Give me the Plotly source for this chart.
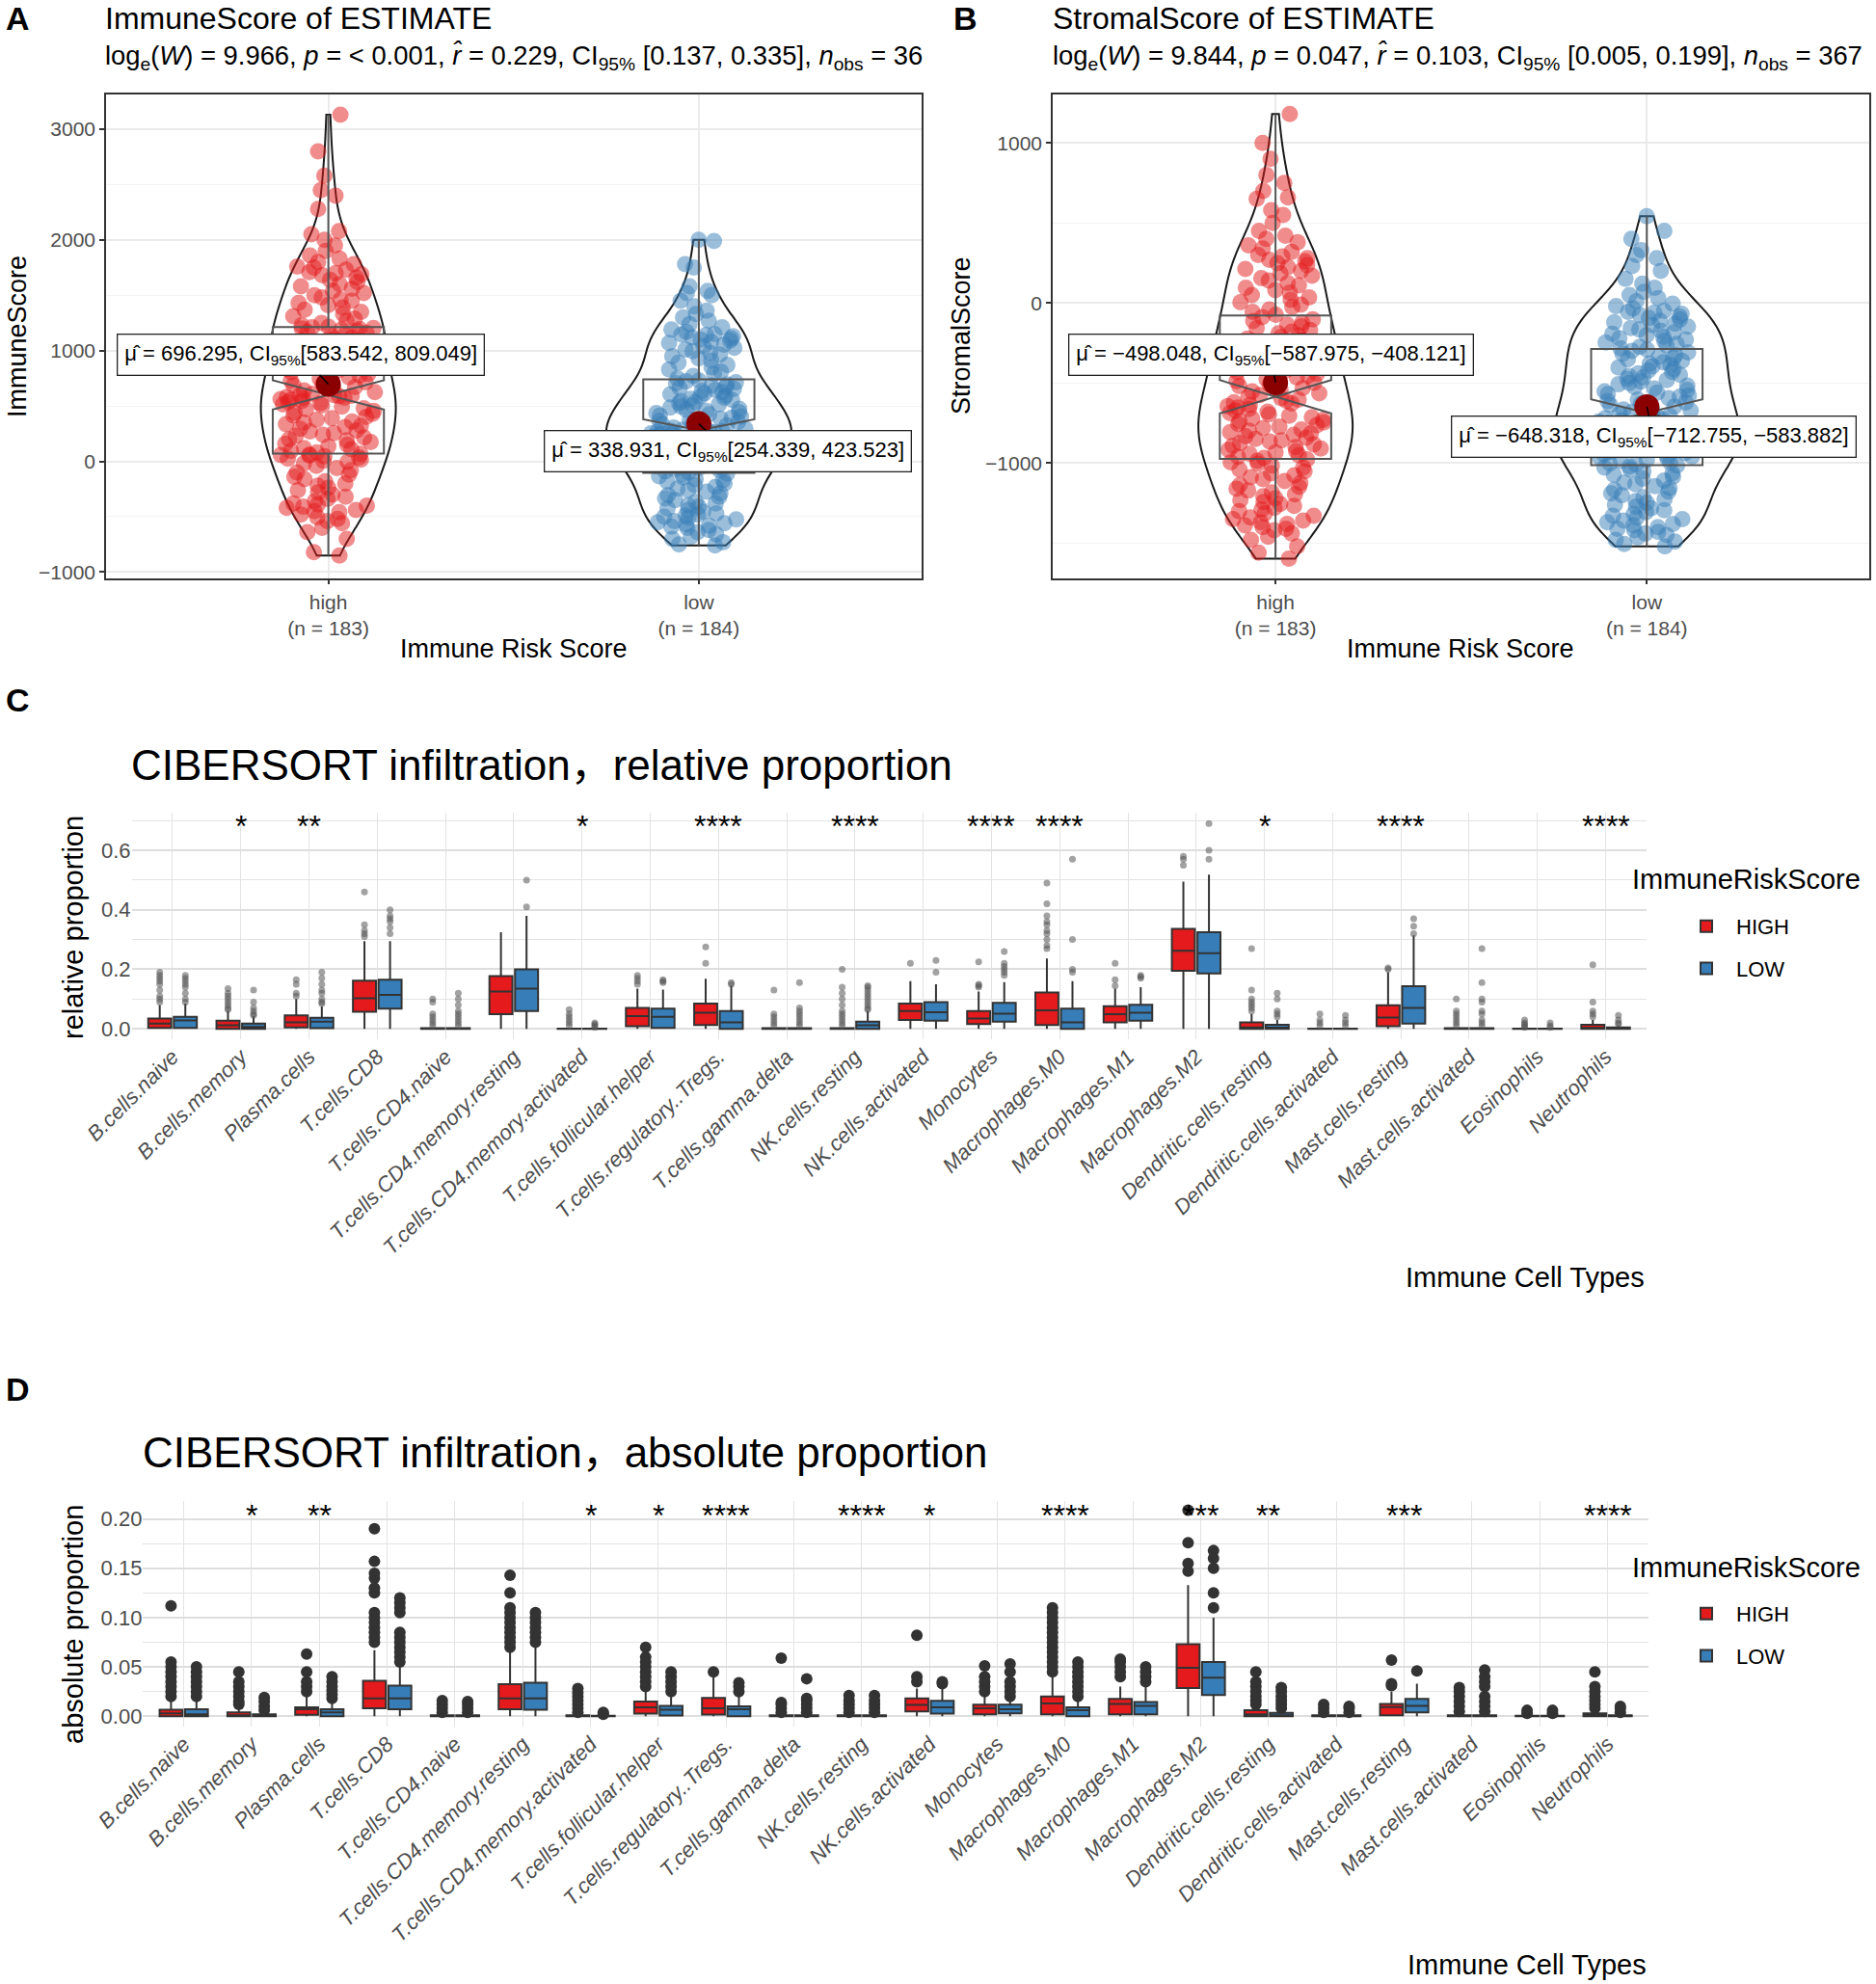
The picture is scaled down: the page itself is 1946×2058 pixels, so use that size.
import numpy as np
import plotly.graph_objects as go

W, H = 1946, 2058
FONT = "Liberation Sans, Arial, Helvetica, sans-serif"
FONT_CJK = "Liberation Sans, Arial, Noto Sans CJK SC, sans-serif"

# ---------------- Panels A / B : ESTIMATE scores ----------------
groups = ["high", "low"]
group_ticktext = ["high<br>(n = 183)", "low<br>(n = 184)"]

immune_high = [-850, -820, -700, -640, -600, -560, -540, -520, -505,
               -480, -460, -450, -440, -420, -410, -400, -390, -380,
               -360, -340, -320, -300, -280, -260, -240, -220, -200, -180, -160, -140, -120, -100, -80, -60, -40, -20,
               -5, 5, 15, 25, 35, 45, 52, 58, 62, 67,
               80, 95, 110, 120, 135, 150, 160, 175, 190, 200, 215, 230, 240, 255, 270, 280, 295, 310, 320, 335,
               350, 360, 375, 390, 400, 415, 430, 440, 455, 470, 480, 495, 505, 515, 525, 535, 545, 555, 562, 570,
               576, 582, 588, 592, 596, 600,
               610, 625, 640, 655, 670, 685, 700, 715, 730, 745, 760, 775, 790, 805, 820, 835, 850, 865, 880, 895,
               910, 925, 940, 955, 970, 985, 1000, 1015, 1030, 1045, 1060, 1075, 1090, 1105, 1120, 1135, 1150, 1160,
               1170, 1180, 1190, 1195, 1200, 1205, 1210, 1215,
               1230, 1250, 1270, 1290, 1310, 1330, 1350, 1370, 1390, 1410, 1430, 1450, 1460, 1480, 1500, 1520, 1540,
               1560, 1580, 1600, 1620, 1640, 1660, 1680, 1690, 1700, 1710,
               1730, 1750, 1760, 1780, 1800, 1830, 1860, 1900, 1950, 2000, 2050, 2080, 2280, 2400, 2450, 2580, 2800, 3130]

immune_low = [-760, -750, -730, -700, -680, -660, -640, -620, -600,
              -590, -580, -570, -560, -550, -540, -525, -510, -500,
              -490, -480, -470, -455, -440, -425, -410, -395, -380, -365, -350, -335, -320, -305, -290, -275, -260,
              -245, -230, -215, -200, -185, -170, -160, -145, -135, -120, -110,
              -100, -90, -80, -70, -60, -50, -40, -30, -20, -10, 0, 10, 20, 30, 40, 50, 60, 70, 80, 90, 100, 110, 120,
              130, 140, 150, 160, 170, 180, 190, 200, 208, 215, 222, 229, 236, 243, 248, 253, 258, 262, 266, 270,
              273, 275, 277,
              285, 295, 305, 315, 325, 335, 345, 355, 365, 375, 385, 395, 405, 415, 425, 435, 445, 455, 465, 475,
              485, 495, 505, 515, 525, 535, 545, 555, 565, 575, 585, 595, 605, 615, 625, 635, 645, 655, 665, 675,
              685, 695, 705, 715, 722, 729,
              750, 770, 790, 810, 830, 850, 870, 890, 910, 930, 950, 965, 980, 995, 1010, 1025, 1040, 1055, 1070,
              1080, 1090, 1100, 1110, 1120, 1130, 1140, 1145, 1150,
              1170, 1190, 1210, 1240, 1270, 1300, 1330, 1360, 1400,
              1450, 1500, 1520, 1540, 1580, 1750, 1780, 1990, 2000]

stromal_high = [-1598, -1560, -1520, -1480, -1460, -1440, -1420, -1410, -1400,
                -1390, -1380, -1370, -1360, -1350, -1340, -1330, -1315, -1300,
                -1290, -1280, -1268, -1256, -1244, -1232, -1220, -1208, -1196, -1184, -1172, -1160, -1148, -1136,
                -1124, -1112, -1100, -1088, -1076, -1064, -1052, -1040, -1028, -1016, -1004, -995, -986, -977,
                -968, -960, -951, -943, -934, -926, -917, -909, -900, -892, -883, -875, -866, -858, -849, -841, -832,
                -824, -815, -807, -798, -790, -781, -773, -764, -756, -747, -739, -730, -722, -713, -705, -696, -688,
                -679, -671, -662, -654, -645, -637, -628, -620, -611, -603, -594, -586,
                -575, -564, -553, -542, -531, -520, -509, -498, -487, -476, -465, -454, -443, -432, -421, -410, -399,
                -388, -377, -366, -355, -344, -333, -322, -311, -300, -289, -278, -267, -256, -245, -234, -223, -212,
                -201, -190, -179, -168, -157, -146, -135, -124, -113, -102, -88, -74,
                -55, -40, -25, -10, 5, 20, 35, 50, 65, 80, 95, 110, 125, 140, 155, 170, 185, 200, 212, 224, 236, 248,
                260, 270, 280, 290, 300,
                320, 340, 360, 380, 400, 420, 450, 500, 550,
                580, 650, 660, 700, 750, 800, 900, 1000, 1180]

stromal_low = [-1520, -1505, -1490, -1480, -1465, -1450, -1440, -1430, -1420,
               -1410, -1400, -1390, -1380, -1370, -1360, -1350, -1340, -1330,
               -1318, -1306, -1295, -1283, -1272, -1260, -1248, -1237, -1225, -1214, -1202, -1190, -1179, -1167,
               -1156, -1144, -1132, -1121, -1109, -1098, -1086, -1074, -1063, -1051, -1040, -1028, -1022, -1016,
               -1009, -1002, -995, -988, -980, -973, -966, -959, -952, -945, -938, -931, -923, -916, -909, -902, -895,
               -888, -881, -874, -867, -860, -852, -845, -838, -831, -824, -817, -810, -803, -796, -789, -782, -775,
               -768, -761, -754, -747, -740, -733, -726, -719, -712, -705, -698, -691,
               -682, -673, -665, -656, -647, -638, -630, -621, -612, -604, -595, -586, -578, -569, -560, -552, -543,
               -534, -526, -517, -508, -500, -491, -482, -474, -465, -456, -448, -439, -430, -422, -413, -404, -396,
               -387, -378, -370, -361, -352, -344, -335, -326, -318, -309, -300, -292,
               -283, -274, -265, -256, -247, -238, -229, -220, -211, -202, -193, -184, -175, -166, -157, -148, -139,
               -130, -121, -112, -103, -94, -85, -76, -67, -60, -55, -50,
               -35, -20, -5, 10, 30, 50, 70, 95, 120,
               150, 200, 230, 280, 300, 330, 400, 450, 542]

immune_mean = [696.295, 338.931]
immune_ci_lo = [583.542, 254.339]
immune_ci_hi = [809.049, 423.523]
stromal_mean = [-498.048, -648.318]
stromal_ci_lo = [-587.975, -712.755]
stromal_ci_hi = [-408.121, -583.882]

immune_title = "ImmuneScore of ESTIMATE"
stromal_title = "StromalScore of ESTIMATE"
immune_stats = ("log<sub>e</sub>(<i>W</i>) = 9.966, <i>p</i> = &lt; 0.001, <i>r\u0302</i> = 0.229, "
                "CI<sub>95%</sub> [0.137, 0.335], <i>n</i><sub>obs</sub> = 36")
stromal_stats = ("log<sub>e</sub>(<i>W</i>) = 9.844, <i>p</i> = 0.047, <i>r\u0302</i> = 0.103, "
                 "CI<sub>95%</sub> [0.005, 0.199], <i>n</i><sub>obs</sub> = 367")

# ---------------- Panels C / D : CIBERSORT ----------------
cell_types = ["B.cells.naive", "B.cells.memory", "Plasma.cells", "T.cells.CD8", "T.cells.CD4.naive",
              "T.cells.CD4.memory.resting", "T.cells.CD4.memory.activated", "T.cells.follicular.helper",
              "T.cells.regulatory..Tregs.", "T.cells.gamma.delta", "NK.cells.resting", "NK.cells.activated",
              "Monocytes", "Macrophages.M0", "Macrophages.M1", "Macrophages.M2", "Dendritic.cells.resting",
              "Dendritic.cells.activated", "Mast.cells.resting", "Mast.cells.activated", "Eosinophils",
              "Neutrophils"]
risk_groups = ["HIGH", "LOW"]

rel_high_q1 = [0.003, 0.0, 0.005, 0.057, 0.0, 0.049, 0.0, 0.009, 0.013, 0.0, 0.0, 0.03, 0.016, 0.013, 0.022, 0.195, 0.0, 0.0, 0.009, 0.0, 0.0, 0.0]
rel_high_med = [0.018, 0.012, 0.022, 0.103, 0.0, 0.125, 0.0, 0.043, 0.054, 0.0, 0.0, 0.06, 0.035, 0.062, 0.049, 0.262, 0.005, 0.0, 0.038, 0.0, 0.0, 0.003]
rel_high_q3 = [0.035, 0.027, 0.045, 0.162, 0.002, 0.177, 0.001, 0.07, 0.085, 0.002, 0.002, 0.085, 0.06, 0.122, 0.076, 0.336, 0.022, 0.001, 0.079, 0.002, 0.001, 0.014]
rel_high_lo = [0.0, 0.0, 0.0, 0.0, 0.0, 0.0, 0.0, 0.0, 0.0, 0.0, 0.0, 0.0, 0.0, 0.0, 0.0, 0.0, 0.0, 0.0, 0.0, 0.0, 0.0, 0.0]
rel_high_up = [0.08, 0.06, 0.1, 0.295, 0.005, 0.325, 0.002, 0.135, 0.168, 0.004, 0.005, 0.16, 0.125, 0.236, 0.135, 0.495, 0.05, 0.003, 0.19, 0.005, 0.003, 0.03]
rel_low_q1 = [0.003, 0.0, 0.002, 0.068, 0.0, 0.06, 0.0, 0.003, 0.0, 0.0, 0.0, 0.027, 0.024, 0.0, 0.027, 0.186, 0.0, 0.0, 0.018, 0.0, 0.0, 0.0]
rel_low_med = [0.028, 0.006, 0.024, 0.114, 0.0, 0.135, 0.0, 0.04, 0.022, 0.0, 0.012, 0.056, 0.051, 0.022, 0.054, 0.254, 0.004, 0.0, 0.07, 0.0, 0.0, 0.0]
rel_low_q3 = [0.04, 0.018, 0.037, 0.165, 0.002, 0.2, 0.001, 0.068, 0.06, 0.002, 0.024, 0.09, 0.087, 0.068, 0.081, 0.325, 0.014, 0.001, 0.143, 0.002, 0.001, 0.005]
rel_low_lo = [0.0, 0.0, 0.0, 0.0, 0.0, 0.0, 0.0, 0.0, 0.0, 0.0, 0.0, 0.0, 0.0, 0.0, 0.0, 0.0, 0.0, 0.0, 0.0, 0.0, 0.0, 0.0]
rel_low_up = [0.085, 0.042, 0.075, 0.295, 0.005, 0.38, 0.002, 0.132, 0.146, 0.004, 0.06, 0.15, 0.157, 0.16, 0.14, 0.518, 0.03, 0.003, 0.314, 0.005, 0.003, 0.01]
rel_high_out = [[0.09, 0.1, 0.11, 0.13, 0.15, 0.16, 0.17, 0.18, 0.19], [0.065, 0.07, 0.08, 0.09, 0.1, 0.11, 0.12, 0.135],
                [0.11, 0.12, 0.15, 0.165], [0.31, 0.32, 0.33, 0.35, 0.46], [0.01, 0.02, 0.03, 0.04, 0.05, 0.09, 0.1],
                [], [0.01, 0.02, 0.03, 0.04, 0.05, 0.065], [0.15, 0.16, 0.17, 0.18], [0.22, 0.275],
                [0.01, 0.02, 0.03, 0.04, 0.05, 0.13], [0.01, 0.02, 0.03, 0.04, 0.05, 0.06, 0.08, 0.1, 0.12, 0.14, 0.2],
                [0.22], [0.14, 0.145, 0.15, 0.225], [0.27, 0.28, 0.3, 0.32, 0.33, 0.35, 0.36, 0.38, 0.42, 0.49],
                [0.145, 0.165, 0.22], [0.55, 0.57, 0.58], [0.06, 0.07, 0.08, 0.09, 0.1, 0.13, 0.27],
                [0.01, 0.02, 0.03, 0.05], [0.2, 0.205], [0.01, 0.02, 0.03, 0.04, 0.05, 0.06, 0.1],
                [0.005, 0.01, 0.015, 0.02, 0.03], [0.04, 0.05, 0.06, 0.09, 0.215]]
rel_low_out = [[0.09, 0.1, 0.12, 0.14, 0.15, 0.16, 0.17, 0.18], [0.045, 0.05, 0.06, 0.07, 0.09, 0.13],
               [0.085, 0.09, 0.1, 0.12, 0.13, 0.15, 0.17, 0.19], [0.32, 0.34, 0.36, 0.37, 0.38, 0.4],
               [0.01, 0.02, 0.03, 0.04, 0.05, 0.06, 0.08, 0.1, 0.12], [0.41, 0.5], [0.005, 0.01, 0.015, 0.02],
               [0.155, 0.16, 0.165], [0.15, 0.155], [0.01, 0.02, 0.03, 0.04, 0.05, 0.06, 0.07, 0.155],
               [0.065, 0.07, 0.08, 0.09, 0.1, 0.11, 0.12, 0.13, 0.14, 0.145], [0.19, 0.23],
               [0.18, 0.19, 0.2, 0.21, 0.22, 0.26], [0.19, 0.2, 0.3, 0.57], [0.17, 0.175, 0.18], [0.57, 0.6, 0.69],
               [0.04, 0.05, 0.06, 0.1, 0.12], [0.01, 0.02, 0.03, 0.045], [0.32, 0.345, 0.37],
               [0.01, 0.02, 0.03, 0.05, 0.06, 0.09, 0.1, 0.155, 0.27], [0.005, 0.01, 0.02], [0.015, 0.02, 0.03, 0.045]]
rel_stars = ["", "*", "**", "", "", "", "*", "", "****", "", "****", "", "****", "****", "", "", "*", "",
             "****", "", "", "****"]

abs_high_q1 = [0.0, 0.0, 0.0015, 0.008, 0.0, 0.007, 0.0, 0.0026, 0.0016, 0.0, 0.0, 0.005, 0.002, 0.002, 0.002, 0.0286, 0.0, 0.0, 0.001, 0.0, 0.0, 0.0]
abs_high_med = [0.003, 0.001, 0.007, 0.018, 0.0, 0.018, 0.0, 0.009, 0.008, 0.0, 0.0, 0.0114, 0.008, 0.013, 0.0125, 0.049, 0.002, 0.0, 0.0094, 0.0, 0.0, 0.0]
abs_high_q3 = [0.0065, 0.004, 0.009, 0.036, 0.001, 0.0326, 0.001, 0.015, 0.0186, 0.001, 0.001, 0.018, 0.0117, 0.02, 0.0176, 0.073, 0.006, 0.001, 0.0125, 0.001, 0.0005, 0.003]
abs_high_lo = [0.0, 0.0, 0.0, 0.0, 0.0, 0.0, 0.0, 0.0, 0.0, 0.0, 0.0, 0.0, 0.0, 0.0, 0.0, 0.0, 0.0, 0.0, 0.0, 0.0, 0.0, 0.0]
abs_high_up = [0.016, 0.01, 0.02, 0.067, 0.002, 0.065, 0.002, 0.028, 0.04, 0.002, 0.002, 0.028, 0.02, 0.04, 0.03, 0.133, 0.009, 0.002, 0.025, 0.002, 0.001, 0.006]
abs_low_q1 = [0.0, 0.0, 0.0, 0.007, 0.0, 0.0065, 0.0, 0.0007, 0.0, 0.0, 0.0, 0.0026, 0.003, 0.0, 0.002, 0.0215, 0.0, 0.0, 0.004, 0.0, 0.0, 0.0]
abs_low_med = [0.002, 0.0, 0.004, 0.018, 0.0, 0.018, 0.0, 0.0065, 0.007, 0.0, 0.0, 0.009, 0.007, 0.006, 0.0106, 0.039, 0.001, 0.0, 0.0106, 0.0, 0.0, 0.0]
abs_low_q3 = [0.007, 0.002, 0.007, 0.031, 0.001, 0.034, 0.0005, 0.0104, 0.01, 0.001, 0.001, 0.0157, 0.0117, 0.009, 0.0145, 0.055, 0.0035, 0.001, 0.0176, 0.001, 0.0005, 0.001]
abs_low_lo = [0.0, 0.0, 0.0, 0.0, 0.0, 0.0, 0.0, 0.0, 0.0, 0.0, 0.0, 0.0, 0.0, 0.0, 0.0, 0.0, 0.0, 0.0, 0.0, 0.0, 0.0, 0.0]
abs_low_up = [0.017, 0.004, 0.015, 0.05, 0.002, 0.07, 0.001, 0.023, 0.022, 0.002, 0.002, 0.03, 0.018, 0.015, 0.03, 0.1, 0.006, 0.002, 0.033, 0.002, 0.001, 0.002]
abs_high_out = [[0.02, 0.025, 0.03, 0.035, 0.04, 0.045, 0.05, 0.055, 0.112], [0.012, 0.015, 0.02, 0.025, 0.03, 0.035, 0.045],
                [0.025, 0.03, 0.035, 0.045, 0.063],
                [0.075, 0.08, 0.085, 0.09, 0.095, 0.1, 0.105, 0.125, 0.13, 0.14, 0.145, 0.157, 0.19],
                [0.004, 0.008, 0.012, 0.016],
                [0.07, 0.075, 0.08, 0.085, 0.09, 0.095, 0.1, 0.105, 0.11, 0.125, 0.143],
                [0.004, 0.008, 0.012, 0.016, 0.02, 0.024, 0.028], [0.03, 0.035, 0.04, 0.045, 0.05, 0.055, 0.06, 0.07],
                [0.045], [0.004, 0.008, 0.012, 0.014, 0.059], [0.004, 0.008, 0.012, 0.016, 0.021], [0.035, 0.04, 0.082],
                [0.025, 0.03, 0.035, 0.04, 0.051],
                [0.045, 0.05, 0.055, 0.06, 0.065, 0.07, 0.075, 0.08, 0.085, 0.09, 0.095, 0.1, 0.105, 0.11],
                [0.04, 0.045, 0.05, 0.055, 0.058], [0.147, 0.155, 0.176, 0.209],
                [0.012, 0.016, 0.02, 0.025, 0.03, 0.035, 0.045], [0.004, 0.008, 0.012], [0.031, 0.033, 0.057],
                [0.005, 0.01, 0.015, 0.02, 0.025, 0.029], [0.003, 0.006], [0.008, 0.012, 0.016, 0.02, 0.025, 0.03, 0.045]]
abs_low_out = [[0.02, 0.025, 0.03, 0.035, 0.04, 0.045, 0.05], [0.006, 0.01, 0.015, 0.019],
               [0.018, 0.022, 0.026, 0.03, 0.035, 0.04],
               [0.055, 0.06, 0.065, 0.07, 0.075, 0.08, 0.085, 0.105, 0.11, 0.115, 0.12],
               [0.004, 0.008, 0.012, 0.015], [0.075, 0.08, 0.085, 0.09, 0.095, 0.1, 0.105], [0.002, 0.004],
               [0.025, 0.03, 0.035, 0.04, 0.045], [0.025, 0.03, 0.034], [0.004, 0.008, 0.012, 0.016, 0.018, 0.038],
               [0.004, 0.008, 0.012, 0.016, 0.021], [0.033, 0.035], [0.02, 0.025, 0.03, 0.035, 0.045, 0.053],
               [0.02, 0.025, 0.03, 0.035, 0.04, 0.045, 0.05, 0.055], [0.035, 0.04, 0.045, 0.05],
               [0.11, 0.125, 0.15, 0.16, 0.168], [0.008, 0.012, 0.016, 0.02, 0.025, 0.029], [0.004, 0.008, 0.01],
               [0.046], [0.005, 0.01, 0.015, 0.02, 0.03, 0.035, 0.04, 0.047], [0.003, 0.006], [0.004, 0.008, 0.01]]
abs_stars = ["", "*", "**", "", "", "", "*", "*", "****", "", "****", "*", "", "****", "", "***", "**", "",
             "***", "", "", "****"]

assert len(immune_high) == 183 and len(immune_low) == 184
assert len(stromal_high) == 183 and len(stromal_low) == 184

# ---------------- helpers / styling ----------------
RED, BLUE = "#E41A1C", "#377EB8"
MEAN_COL = "#8B0000"


def xd(left, right):
    return [left / W, right / W]


def yd(top, bottom):
    return [1 - bottom / H, 1 - top / H]


def nrd0(v):
    v = np.asarray(v, float)
    sd = v.std(ddof=1)
    q75, q25 = np.percentile(v, [75, 25])
    return 0.9 * min(sd, (q75 - q25) / 1.34) * len(v) ** -0.2


def kde_peak(v):
    v = np.asarray(v, float)
    bw = nrd0(v)
    grid = np.linspace(v.min(), v.max(), 512)
    dens = np.exp(-0.5 * ((grid[:, None] - v[None, :]) / bw) ** 2).sum(1) / (len(v) * bw * np.sqrt(2 * np.pi))
    return dens.max()


def num(v):
    return f"{v:.3f}".replace("-", "\u2212")


def mean_label(m, lo, hi):
    return f"\u03bc\u0302 = {num(m)}, CI<sub>95%</sub>[{num(lo)}, {num(hi)}]"


def ann(text, x, y, size, xanchor="left", yanchor="middle", color="black", angle=0, family=FONT):
    return dict(text=text, x=x / W, y=1 - y / H, xref="paper", yref="paper", showarrow=False,
                xanchor=xanchor, yanchor=yanchor, textangle=angle,
                font=dict(size=size, color=color, family=family))


fig = go.Figure()

# violins with jittered points (A: x/y, B: x2/y2); widths scaled by density peak (ggplot 'area')
ab_sets = [("x", "y", immune_high, immune_low), ("x2", "y2", stromal_high, stromal_low)]
for xa, ya, hv, lv in ab_sets:
    peaks = [kde_peak(hv), kde_peak(lv)]
    for name, vals, col, pk in [("high", hv, RED, peaks[0]), ("low", lv, BLUE, peaks[1])]:
        w = 0.5 * pk / max(peaks)
        fig.add_trace(go.Violin(
            x=[name] * len(vals), y=vals, xaxis=xa, yaxis=ya, name=name, showlegend=False,
            scalemode="width", width=w, spanmode="hard", bandwidth=nrd0(vals),
            points="all", pointpos=0, jitter=min(1.0, 0.26 / w),
            marker=dict(color=col, size=17, opacity=0.5, line=dict(width=0)),
            line=dict(color="#1a1a1a", width=2), fillcolor="rgba(0,0,0,0)",
            box_visible=False, meanline_visible=False, hoverinfo="skip"))

for xa, ya, hv, lv in ab_sets:
    fig.add_trace(go.Box(
        x=["high"] * len(hv) + ["low"] * len(lv), y=hv + lv, xaxis=xa, yaxis=ya, showlegend=False,
        notched=True, notchwidth=0.5, width=0.3, boxpoints=False, whiskerwidth=0,
        fillcolor="rgba(0,0,0,0)", line=dict(color="#555555", width=2), offsetgroup="ab",
        hoverinfo="skip"))

# CIBERSORT boxes + outliers (outliers as point-only boxes sharing the same offset group)
cd_sets = [
    ("x3", "y3", "legend", 7, "#555555", 0.55,
     [(rel_high_q1, rel_high_med, rel_high_q3, rel_high_lo, rel_high_up, rel_high_out, "HIGH", RED),
      (rel_low_q1, rel_low_med, rel_low_q3, rel_low_lo, rel_low_up, rel_low_out, "LOW", BLUE)]),
    ("x4", "y4", "legend2", 12, "#333333", 1.0,
     [(abs_high_q1, abs_high_med, abs_high_q3, abs_high_lo, abs_high_up, abs_high_out, "HIGH", RED),
      (abs_low_q1, abs_low_med, abs_low_q3, abs_low_lo, abs_low_up, abs_low_out, "LOW", BLUE)]),
]
for xa, ya, leg, msize, mcol, mop, specs in cd_sets:
    for q1, med, q3, lo, up, outs, name, col in specs:
        fig.add_trace(go.Box(
            x=cell_types, q1=q1, median=med, q3=q3, lowerfence=lo, upperfence=up,
            xaxis=xa, yaxis=ya, name=name, legend=leg, legendgroup=name + leg,
            fillcolor=col, line=dict(color="#333333", width=2), whiskerwidth=0,
            boxpoints=False, offsetgroup=name, hoverinfo="skip"))
    for q1, med, q3, lo, up, outs, name, col in specs:
        ox = [c for c, vals in zip(cell_types, outs) for _ in vals]
        oy = [v for vals in outs for v in vals]
        fig.add_trace(go.Box(
            x=ox, y=oy, xaxis=xa, yaxis=ya, name=name, showlegend=False, offsetgroup=name,
            boxpoints="all", jitter=0, pointpos=0, fillcolor="rgba(0,0,0,0)",
            line=dict(width=0, color="rgba(0,0,0,0)"),
            marker=dict(color=mcol, size=msize, opacity=mop, line=dict(width=0)), hoverinfo="skip"))

# mean points
for xa, ya, means in [("x", "y", immune_mean), ("x2", "y2", stromal_mean)]:
    fig.add_trace(go.Scatter(x=groups, y=means, xaxis=xa, yaxis=ya, mode="markers", showlegend=False,
                             marker=dict(color=MEAN_COL, size=26), hoverinfo="skip"))

# ---------------- axes ----------------
bw_axis = dict(showline=True, mirror=True, linecolor="#333333", linewidth=1.5, showgrid=True,
               gridcolor="#EBEBEB", gridwidth=1.5, zeroline=False, ticks="outside", ticklen=5,
               tickwidth=1.5, tickcolor="#333333", tickfont=dict(size=21, color="#4D4D4D", family=FONT),
               automargin=False)
cat_ab = dict(type="category", categoryorder="array", categoryarray=groups, range=[-0.6, 1.6],
              tickmode="array", tickvals=groups, ticktext=group_ticktext)
minor_bw = dict(dtick=500, tick0=0, showgrid=True, gridcolor="#F3F3F3", gridwidth=1, ticks="")

min_axis = dict(showgrid=True, gridcolor="#DEDEDE", gridwidth=1.5, zeroline=False, showline=False,
                ticks="", tickfont=dict(size=22, color="#4D4D4D", family=FONT), automargin=False)
cat_cd = dict(type="category", categoryorder="array", categoryarray=cell_types, range=[-0.6, 21.6],
              tickangle=-45, showgrid=True, gridcolor="#E3E3E3", gridwidth=1.2, zeroline=False,
              showline=False, ticks="",
              tickfont=dict(size=22, color="#4D4D4D", family=FONT, style="italic"), automargin=False)

fig.update_layout(
    xaxis=dict(domain=xd(110, 955.5), anchor="y", **cat_ab, **bw_axis),
    yaxis=dict(domain=yd(98.4, 599.7), anchor="x", range=[-1055, 3310], dtick=1000, tick0=0,
               minor=minor_bw, **bw_axis),
    xaxis2=dict(domain=xd(1092, 1939.4), anchor="y2", **cat_ab, **bw_axis),
    yaxis2=dict(domain=yd(98.4, 599.7), anchor="x2", range=[-1719, 1300], dtick=1000, tick0=0,
                minor=minor_bw, **bw_axis),
    xaxis3=dict(domain=xd(136.5, 1708), anchor="y3", **cat_cd),
    yaxis3=dict(domain=yd(843, 1078), anchor="x3", range=[-0.035, 0.7265], dtick=0.2, tick0=0,
                tickformat=".1f", minor=dict(dtick=0.1, tick0=0, showgrid=True, gridcolor="#E3E3E3",
                                             gridwidth=1.2, ticks=""), **min_axis),
    xaxis4=dict(domain=xd(148.4, 1709.8), anchor="y4", **cat_cd),
    yaxis4=dict(domain=yd(1556.7, 1791), anchor="x4", range=[-0.0105, 0.2185], dtick=0.05, tick0=0,
                tickformat=".2f", minor=dict(dtick=0.025, tick0=0, showgrid=True, gridcolor="#E3E3E3",
                                             gridwidth=1.2, ticks=""), **min_axis),
)

legend_style = dict(xanchor="left", yanchor="top", bgcolor="rgba(0,0,0,0)", tracegroupgap=12,
                    itemwidth=52, font=dict(size=22, color="black", family=FONT))
fig.update_layout(
    legend=dict(x=1739 / W, y=1 - 940 / H, **legend_style),
    legend2=dict(x=1739 / W, y=1 - 1653 / H, **legend_style),
)

# ---------------- annotations ----------------
annotations = [
    ann("<b>A</b>", 4, 19, 34), ann("<b>B</b>", 987, 19, 34),
    ann("<b>C</b>", 4, 726, 34), ann("<b>D</b>", 4, 1441, 34),
    ann(immune_title, 107, 19, 32), ann(stromal_title, 1090, 19, 32),
    ann(immune_stats, 107, 60, 27.4), ann(stromal_stats, 1090, 60, 27.4),
    ann("ImmuneScore", 18, 349, 27, xanchor="center", angle=-90),
    ann("StromalScore", 997, 348, 27, xanchor="center", angle=-90),
    ann("Immune Risk Score", 533, 673, 27, xanchor="center"),
    ann("Immune Risk Score", 1515, 673, 27, xanchor="center"),
    ann("CIBERSORT infiltration\uff0crelative proportion", 134, 794, 44, family=FONT_CJK),
    ann("CIBERSORT infiltration\uff0cabsolute proportion", 146, 1506, 44, family=FONT_CJK),
    ann("relative proportion", 76, 962, 29, xanchor="center", angle=-90),
    ann("absolute proportion", 76, 1685, 29, xanchor="center", angle=-90),
    ann("Immune Cell Types", 1708, 1325, 29, xanchor="right"),
    ann("Immune Cell Types", 1709.8, 2038, 29, xanchor="right"),
    ann("ImmuneRiskScore", 1691, 912, 29),
    ann("ImmuneRiskScore", 1691, 1626, 29),
]

label_offsets = [(-29, -31), (30, 28), (-5, -29), (7, 31)]
k = 0
for xa, ya, means, los, his in [("x", "y", immune_mean, immune_ci_lo, immune_ci_hi),
                                ("x2", "y2", stromal_mean, stromal_ci_lo, stromal_ci_hi)]:
    for g, m, lo, hi in zip(groups, means, los, his):
        axp, ayp = label_offsets[k]
        k += 1
        annotations.append(dict(
            x=g, y=m, xref=xa, yref=ya, text=mean_label(m, lo, hi), showarrow=True, arrowhead=0,
            arrowwidth=1.5, arrowcolor="black", ax=axp, ay=ayp, standoff=0,
            bgcolor="white", bordercolor="#222222", borderwidth=1.3, borderpad=7,
            font=dict(size=22, color="black", family=FONT)))

for xa, ya, stars, ystar in [("x3", "y3", rel_stars, 0.68), ("x4", "y4", abs_stars, 0.2035)]:
    for c, s in zip(cell_types, stars):
        if s:
            annotations.append(dict(x=c, y=ystar, xref=xa, yref=ya, text=s, showarrow=False,
                                    xanchor="center", yanchor="middle",
                                    font=dict(size=32, color="black", family=FONT)))

fig.update_layout(
    annotations=annotations,
    width=W, height=H, margin=dict(l=0, r=0, t=0, b=0),
    paper_bgcolor="white", plot_bgcolor="white",
    font=dict(family=FONT, color="black"),
    violinmode="overlay", violingap=0,
    boxmode="group", boxgap=0.25, boxgroupgap=0.1,
    showlegend=True, hovermode=False,
)

fig.write_html("out.html", config={"displayModeBar": False},
               post_script="document.body.style.margin='0px';")
